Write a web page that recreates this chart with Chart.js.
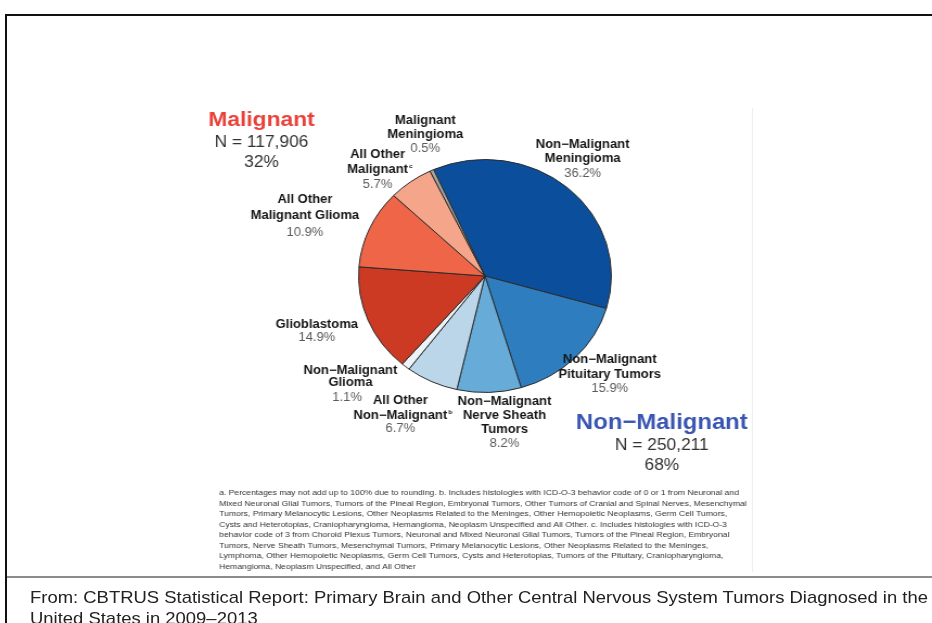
<!DOCTYPE html>
<html>
<head>
<meta charset="utf-8">
<script src="https://cdn.jsdelivr.net/npm/chart.js@4.4.1/dist/chart.umd.min.js"></script>
<style>
html, body { margin: 0; padding: 0; background: #fff; overflow: hidden; }
#page { position: absolute; left: 0; top: 0; width: 932px; height: 623px; }
#frame { position: absolute; left: 5px; top: 14px; width: 960px; height: 700px; border-left: 2px solid #111; border-top: 2px solid #111; }
#sep { position: absolute; left: 7px; top: 576px; width: 940px; height: 2px; background: #8c8c8c; }
#caption { position: absolute; left: 30px; top: 587px; width: 910px; font: 17px "Liberation Sans", Arial, sans-serif; line-height: 21px; color: #222; white-space: nowrap; transform: scaleX(1.085); transform-origin: 0 0; }
#pie { position: absolute; left: 0; top: 0; }
</style>
</head>
<body>
<div id="page">
  <canvas id="pie" width="859" height="623" style="width:932px;height:623px"></canvas>
  <div id="frame"></div>
  <div id="sep"></div>
  <div id="caption">From: CBTRUS Statistical Report: Primary Brain and Other Central Nervous System Tumors Diagnosed in the<br>United States in 2009–2013</div>
</div>
<script>
// slices, clockwise from the top-left edge of the meningioma wedge
const categories = [
    'Non-Malignant Meningioma', 'Non-Malignant Pituitary Tumors', 'Non-Malignant Nerve Sheath Tumors',
    'All Other Non-Malignant', 'Non-Malignant Glioma', 'Glioblastoma',
    'All Other Malignant Glioma', 'All Other Malignant', 'Malignant Meningioma'
];
const percents = [36.2, 15.9, 8.2, 6.7, 1.1, 14.9, 10.9, 5.7, 0.5];

const groupNames = ['Malignant', 'Non\u2212Malignant'];
const groupCounts = ['117,906', '250,211'];
const groupShares = [32, 68];

const sliceColors = ['#0b4f9c', '#2e7ebf', '#67acd8', '#bad6e8', '#eef3f8', '#cc3a24', '#ef6548', '#f5a68a', '#a8a39f'];

// label text for each slice (same order), plus footnote marks
const labelLines = [
    ['Non\u2212Malignant', 'Meningioma'],
    ['Non\u2212Malignant', 'Pituitary Tumors'],
    ['Non\u2212Malignant', 'Nerve Sheath', 'Tumors'],
    ['All Other', 'Non\u2212Malignant'],
    ['Non\u2212Malignant', 'Glioma'],
    ['Glioblastoma'],
    ['All Other', 'Malignant Glioma'],
    ['All Other', 'Malignant'],
    ['Malignant', 'Meningioma']
];
const labelMarks = ['', '', '', 'b', '', '', '', 'c', ''];

const footnote = [
    'a. Percentages may not add up to 100% due to rounding. b. Includes histologies with ICD-O-3 behavior code of 0 or 1 from Neuronal and',
    'Mixed Neuronal Glial Tumors, Tumors of the Pineal Region, Embryonal Tumors, Other Tumors of Cranial and Spinal Nerves, Mesenchymal',
    'Tumors, Primary Melanocytic Lesions, Other Neoplasms Related to the Meninges, Other Hemopoietic Neoplasms, Germ Cell Tumors,',
    'Cysts and Heterotopias, Craniopharyngioma, Hemangioma, Neoplasm Unspecified and All Other. c. Includes histologies with ICD-O-3',
    'behavior code of 3 from Choroid Plexus Tumors, Neuronal and Mixed Neuronal Glial Tumors, Tumors of the Pineal Region, Embryonal',
    'Tumors, Nerve Sheath Tumors, Mesenchymal Tumors, Primary Melanocytic Lesions, Other Neoplasms Related to the Meninges,',
    'Lymphoma, Other Hemopoietic Neoplasms, Germ Cell Tumors, Cysts and Heterotopias, Tumors of the Pituitary, Craniopharyngioma,',
    'Hemangioma, Neoplasm Unspecified, and All Other'
];

// label placement (canvas coords): centre x, y of each line, y of percent
const labelPos = [
    { x: 537, ys: [145, 159], py: 174 },
    { x: 562, ys: [360, 375], py: 389 },
    { x: 465, ys: [402, 416, 430], py: 444 },
    { x: 369, ys: [401, 416], py: 429 },
    { x: 323, ys: [371, 383], px: 320, py: 398 },
    { x: 292, ys: [325], py: 338 },
    { x: 281, ys: [200, 216], py: 233 },
    { x: 348, ys: [155, 170], py: 185 },
    { x: 392, ys: [121, 135], py: 149 }
];
const groupPos = [
    { x: 241, y: 120, color: '#e8423a', size: 21 },
    { x: 610, y: 423, color: '#3a56b2', size: 22 }
];

const FONT = '"Liberation Sans", Arial, sans-serif';

const labelsPlugin = {
    id: 'labels',
    afterDraw(chart) {
        const ctx = chart.ctx;
        ctx.save();
        ctx.textAlign = 'center';
        ctx.textBaseline = 'middle';

        labelLines.forEach((lines, i) => {
            const p = labelPos[i];
            ctx.fillStyle = '#151515';
            ctx.font = 'bold 12px ' + FONT;
            lines.forEach((t, j) => {
                ctx.fillText(t, p.x, p.ys[j]);
                if (labelMarks[i] && j === lines.length - 1) {
                    const w = ctx.measureText(t).width;
                    ctx.font = 'bold 6px ' + FONT;
                    ctx.textAlign = 'left';
                    ctx.fillText(labelMarks[i], p.x + w / 2 + 1, p.ys[j] - 4);
                    ctx.textAlign = 'center';
                    ctx.font = 'bold 12px ' + FONT;
                }
            });
            ctx.fillStyle = '#5a5a5a';
            ctx.font = '12px ' + FONT;
            ctx.fillText(percents[i].toFixed(1) + '%', p.px || p.x, p.py);
        });

        groupNames.forEach((name, i) => {
            const g = groupPos[i];
            ctx.fillStyle = g.color;
            ctx.font = 'bold ' + g.size + 'px ' + FONT;
            ctx.fillText(name, g.x, g.y);
            ctx.fillStyle = '#333';
            ctx.font = '16px ' + FONT;
            ctx.fillText('N = ' + groupCounts[i], g.x, g.y + 23);
            ctx.fillText(groupShares[i] + '%', g.x, g.y + 43);
        });

        // footnote block, sized to the figure width
        ctx.textAlign = 'left';
        ctx.font = '10px ' + FONT;
        const size = 10 * 487 / ctx.measureText(footnote[1]).width;
        ctx.font = size + 'px ' + FONT;
        ctx.fillStyle = '#333';
        footnote.forEach((t, i) => ctx.fillText(t, 202, 493 + i * 10.5));

        // faint edge of the embedded figure
        ctx.strokeStyle = '#efefef';
        ctx.lineWidth = 1;
        ctx.beginPath();
        ctx.moveTo(693.5, 108);
        ctx.lineTo(693.5, 572);
        ctx.stroke();
        ctx.restore();
    }
};

new Chart(document.getElementById('pie').getContext('2d'), {
    type: 'pie',
    data: {
        labels: categories,
        datasets: [{
            data: percents,
            backgroundColor: sliceColors,
            borderColor: '#2b2b2b',
            borderWidth: 1
        }]
    },
    options: {
        responsive: false,
        animation: false,
        rotation: -24,
        layout: { padding: { left: 330, right: 295, top: 159, bottom: 230 } },
        plugins: {
            legend: { display: false },
            tooltip: { enabled: false }
        }
    },
    plugins: [labelsPlugin]
});
</script>
</body>
</html>
